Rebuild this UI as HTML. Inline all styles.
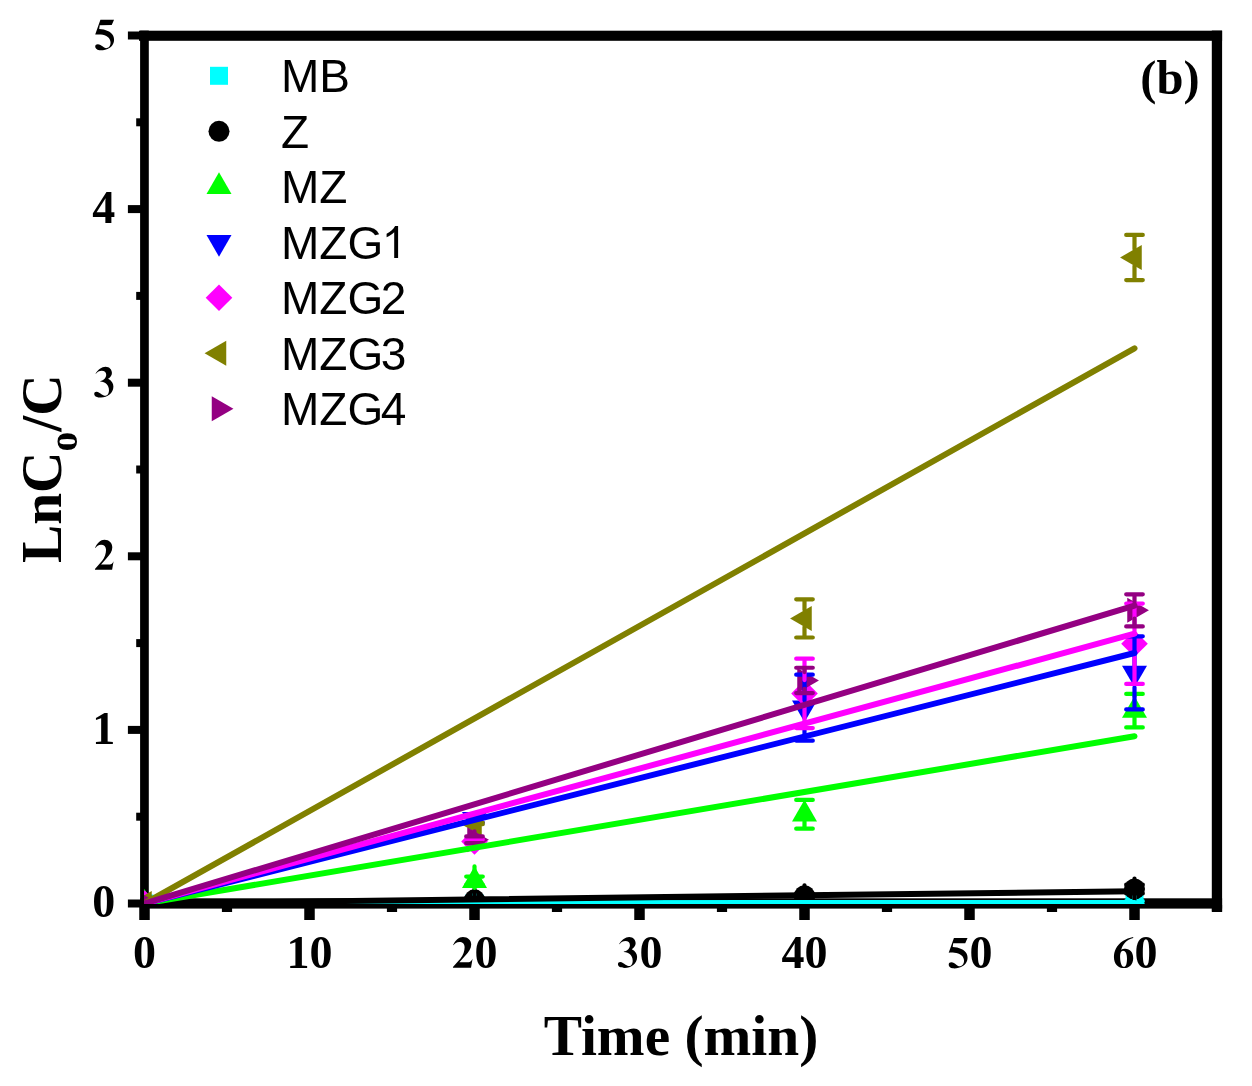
<!DOCTYPE html>
<html><head><meta charset="utf-8"><style>
html,body{margin:0;padding:0;background:#fff;}
body{width:1252px;height:1086px;overflow:hidden;}
svg{display:block;will-change:transform;}
</style></head><body>
<svg width="1252" height="1086" viewBox="0 0 1252 1086">
<rect width="1252" height="1086" fill="#fff"/>
<defs><clipPath id="pc"><rect x="144" y="36" width="1073" height="868"/></clipPath></defs>
<g fill="#000">
<rect x="140.1" y="30.6" width="8.7" height="878"/>
<rect x="1211.8" y="30.6" width="10.3" height="881"/>
<rect x="139" y="30.7" width="1083.1" height="10.1"/>
<rect x="140.1" y="898.3" width="1082" height="10.3"/>
<rect x="127.9" y="899.50" width="13" height="8"/>
<rect x="127.9" y="725.90" width="13" height="8"/>
<rect x="127.9" y="552.30" width="13" height="8"/>
<rect x="127.9" y="378.70" width="13" height="8"/>
<rect x="127.9" y="205.10" width="13" height="8"/>
<rect x="127.9" y="31.50" width="13" height="8"/>
<rect x="136.2" y="812.70" width="5" height="8"/>
<rect x="136.2" y="639.10" width="5" height="8"/>
<rect x="136.2" y="465.50" width="5" height="8"/>
<rect x="136.2" y="291.90" width="5" height="8"/>
<rect x="136.2" y="118.30" width="5" height="8"/>
<rect x="139.25" y="905" width="10.5" height="15"/>
<rect x="304.25" y="905" width="10.5" height="15"/>
<rect x="469.25" y="905" width="10.5" height="15"/>
<rect x="634.25" y="905" width="10.5" height="15"/>
<rect x="799.25" y="905" width="10.5" height="15"/>
<rect x="964.25" y="905" width="10.5" height="15"/>
<rect x="1129.25" y="905" width="10.5" height="15"/>
<rect x="221.90" y="905" width="10.2" height="7"/>
<rect x="386.90" y="905" width="10.2" height="7"/>
<rect x="551.90" y="905" width="10.2" height="7"/>
<rect x="716.90" y="905" width="10.2" height="7"/>
<rect x="881.90" y="905" width="10.2" height="7"/>
<rect x="1046.90" y="905" width="10.2" height="7"/>
<rect x="1211.90" y="905" width="10.2" height="7"/>
</g>
<g clip-path="url(#pc)">
<rect x="135.50" y="894.50" width="18" height="18" fill="#00FFFF"/>
<rect x="465.50" y="894.29" width="18" height="18" fill="#00FFFF"/>
<rect x="795.50" y="894.08" width="18" height="18" fill="#00FFFF"/>
<rect x="1125.50" y="893.88" width="18" height="18" fill="#00FFFF"/>
<circle cx="144.50" cy="903.50" r="10.5" fill="#000000"/>
<circle cx="474.50" cy="899.85" r="10.5" fill="#000000"/>
<circle cx="804.50" cy="895.79" r="10.5" fill="#000000"/>
<circle cx="1134.50" cy="889.00" r="10.5" fill="#000000"/>
<polygon points="144.50,889.07 132.00,910.72 157.00,910.72" fill="#00FF00"/>
<polygon points="474.50,866.32 462.00,887.98 487.00,887.98" fill="#00FF00"/>
<polygon points="804.50,799.87 792.00,821.52 817.00,821.52" fill="#00FF00"/>
<polygon points="1134.50,696.21 1122.00,717.86 1147.00,717.86" fill="#00FF00"/>
<polygon points="144.50,917.93 132.00,896.28 157.00,896.28" fill="#0000FF"/>
<polygon points="474.50,833.63 462.00,811.98 487.00,811.98" fill="#0000FF"/>
<polygon points="804.50,722.13 792.00,700.48 817.00,700.48" fill="#0000FF"/>
<polygon points="1134.50,687.29 1122.00,665.64 1147.00,665.64" fill="#0000FF"/>
<polygon points="144.50,890.20 157.80,903.50 144.50,916.80 131.20,903.50" fill="#FF00FF"/>
<polygon points="474.50,828.22 487.80,841.52 474.50,854.82 461.20,841.52" fill="#FF00FF"/>
<polygon points="804.50,680.09 817.80,693.39 804.50,706.69 791.20,693.39" fill="#FF00FF"/>
<polygon points="1134.50,630.44 1147.80,643.74 1134.50,657.04 1121.20,643.74" fill="#FF00FF"/>
<polygon points="130.07,903.50 151.72,891.00 151.72,916.00" fill="#808000"/>
<polygon points="460.07,823.51 481.72,811.01 481.72,836.01" fill="#808000"/>
<polygon points="790.07,618.40 811.72,605.90 811.72,630.90" fill="#808000"/>
<polygon points="1120.07,257.50 1141.72,245.00 1141.72,270.00" fill="#808000"/>
<polygon points="158.93,903.50 137.28,891.00 137.28,916.00" fill="#940082"/>
<polygon points="488.93,839.70 467.28,827.20 467.28,852.20" fill="#940082"/>
<polygon points="818.93,680.41 797.28,667.91 797.28,692.91" fill="#940082"/>
<polygon points="1148.93,610.34 1127.28,597.84 1127.28,622.84" fill="#940082"/>
<path d="M474.50,901.56V894.29M474.50,912.29V905.03M466.20,901.56H482.80M466.20,905.03H482.80" stroke="#00FFFF" stroke-width="4.2" stroke-linecap="round" fill="none"/>
<path d="M1134.50,901.14V893.88M1134.50,911.88V904.61M1126.20,901.14H1142.80M1126.20,904.61H1142.80" stroke="#00FFFF" stroke-width="4.2" stroke-linecap="round" fill="none"/>
<path d="M474.50,897.77V889.35M474.50,910.35V901.94M466.20,897.77H482.80M466.20,901.94H482.80" stroke="#000000" stroke-width="4.2" stroke-linecap="round" fill="none"/>
<path d="M804.50,893.71V885.29M804.50,906.29V897.88M796.20,893.71H812.80M796.20,897.88H812.80" stroke="#000000" stroke-width="4.2" stroke-linecap="round" fill="none"/>
<path d="M1134.50,884.49V878.50M1134.50,899.50V893.52M1126.20,884.49H1142.80M1126.20,893.52H1142.80" stroke="#000000" stroke-width="4.2" stroke-linecap="round" fill="none"/>
<path d="M474.50,876.56V866.32M474.50,887.98V884.96M466.20,876.56H482.80M466.20,884.96H482.80" stroke="#00FF00" stroke-width="4.2" stroke-linecap="round" fill="none"/>
<path d="M804.50,799.90V799.87M804.50,821.52V828.71M796.20,799.90H812.80M796.20,828.71H812.80" stroke="#00FF00" stroke-width="4.2" stroke-linecap="round" fill="none"/>
<path d="M1134.50,693.90V696.21M1134.50,717.86V727.40M1126.20,693.90H1142.80M1126.20,727.40H1142.80" stroke="#00FF00" stroke-width="4.2" stroke-linecap="round" fill="none"/>
<path d="M466.20,815.73H482.80M466.20,822.67H482.80" stroke="#0000FF" stroke-width="4.2" stroke-linecap="round" fill="none"/>
<path d="M804.50,674.71V700.48M804.50,722.13V740.68M796.20,674.71H812.80M796.20,740.68H812.80" stroke="#0000FF" stroke-width="4.2" stroke-linecap="round" fill="none"/>
<path d="M1134.50,636.31V665.64M1134.50,687.29V709.40M1126.20,636.31H1142.80M1126.20,709.40H1142.80" stroke="#0000FF" stroke-width="4.2" stroke-linecap="round" fill="none"/>
<path d="M466.20,839.42H482.80M466.20,843.63H482.80" stroke="#FF00FF" stroke-width="4.2" stroke-linecap="round" fill="none"/>
<path d="M804.50,658.67V680.09M804.50,706.69V728.11M796.20,658.67H812.80M796.20,728.11H812.80" stroke="#FF00FF" stroke-width="4.2" stroke-linecap="round" fill="none"/>
<path d="M1134.50,603.59V630.44M1134.50,657.04V683.90M1126.20,603.59H1142.80M1126.20,683.90H1142.80" stroke="#FF00FF" stroke-width="4.2" stroke-linecap="round" fill="none"/>
<path d="M466.20,822.81H482.80M466.20,824.20H482.80" stroke="#808000" stroke-width="4.2" stroke-linecap="round" fill="none"/>
<path d="M804.50,599.30V610.06M804.50,626.73V637.49M796.20,599.30H812.80M796.20,637.49H812.80" stroke="#808000" stroke-width="4.2" stroke-linecap="round" fill="none"/>
<path d="M1134.50,234.90V249.17M1134.50,265.83V280.10M1126.20,234.90H1142.80M1126.20,280.10H1142.80" stroke="#808000" stroke-width="4.2" stroke-linecap="round" fill="none"/>
<path d="M474.50,836.40V831.37M474.50,848.04V843.00M466.20,836.40H482.80M466.20,843.00H482.80" stroke="#940082" stroke-width="4.2" stroke-linecap="round" fill="none"/>
<path d="M804.50,667.73V672.07M804.50,688.74V693.08M796.20,667.73H812.80M796.20,693.08H812.80" stroke="#940082" stroke-width="4.2" stroke-linecap="round" fill="none"/>
<path d="M1134.50,594.28V602.01M1134.50,618.68V626.40M1126.20,594.28H1142.80M1126.20,626.40H1142.80" stroke="#940082" stroke-width="4.2" stroke-linecap="round" fill="none"/>
<line x1="144.50" y1="903.50" x2="1134.50" y2="902.88" stroke="#00FFFF" stroke-width="6.0" stroke-linecap="round"/>
<line x1="144.50" y1="903.50" x2="1134.50" y2="891.21" stroke="#000000" stroke-width="6.0" stroke-linecap="round"/>
<line x1="144.50" y1="903.50" x2="1134.50" y2="736.22" stroke="#00FF00" stroke-width="6.0" stroke-linecap="round"/>
<line x1="144.50" y1="903.50" x2="1134.50" y2="653.00" stroke="#0000FF" stroke-width="6.0" stroke-linecap="round"/>
<line x1="144.50" y1="903.50" x2="1134.50" y2="633.73" stroke="#FF00FF" stroke-width="6.0" stroke-linecap="round"/>
<line x1="144.50" y1="903.50" x2="1134.50" y2="348.33" stroke="#808000" stroke-width="6.0" stroke-linecap="round"/>
<line x1="144.50" y1="903.50" x2="1134.50" y2="605.60" stroke="#940082" stroke-width="6.0" stroke-linecap="round"/>
</g>
<g font-family="Liberation Serif" font-weight="bold" font-size="46" fill="#000">
<text x="115.3" y="917.20" text-anchor="end">0</text>
<text x="115.3" y="743.60" text-anchor="end">1</text>
<text x="115.3" y="222.80" text-anchor="end">4</text>
<path transform="translate(94.98,539.79)" d="M 0.18,7.92 C 2.03,3.32 5.71,0.00 9.40,0.00 C 14.19,0.00 17.32,3.32 17.32,7.37 C 17.32,11.43 14.93,14.74 11.61,18.43 L 6.08,24.70 L 14.93,24.70 C 16.40,24.70 17.51,23.59 18.61,21.38 L 17.14,30.04 L 0.00,30.04 L 0.00,29.30 L 7.19,21.01 C 9.77,17.69 11.06,13.64 11.06,9.95 C 11.06,6.63 9.03,4.87 6.08,4.87 C 3.50,4.87 1.66,6.27 0.55,8.11 Z"/>
<path transform="translate(94.05,366.63)" d="M 1.47,7.00 C 3.69,2.95 7.74,0.00 11.43,0.00 C 15.48,0.00 17.88,2.95 17.88,6.27 C 17.88,8.85 16.22,10.69 14.01,12.16 C 17.69,14.01 19.35,16.96 19.35,19.90 C 19.35,26.54 13.27,30.96 7.00,30.96 C 2.95,30.96 0.18,29.49 0.18,27.28 C 0.18,25.80 1.11,25.06 2.40,25.06 C 4.42,25.06 5.90,26.54 7.74,27.83 C 9.21,28.75 10.32,29.05 11.43,29.05 C 13.64,29.05 14.93,26.54 14.93,23.59 C 14.93,18.43 11.43,15.30 6.08,14.93 L 6.08,14.56 C 9.95,13.64 12.16,11.06 12.16,8.11 C 12.16,5.53 10.32,4.05 7.74,4.05 C 5.16,4.05 3.32,5.16 1.84,7.19 Z"/>
<path transform="translate(95.2,19.8)" d="M 5.22,0.00 L 18.84,0.00 L 16.52,5.30 L 4.53,5.42 L 3.98,9.09 C 10.25,9.36 15.98,11.68 17.99,15.86 C 20.00,20.50 18.45,25.15 14.58,27.93 C 11.10,30.25 7.23,30.64 4.14,30.44 C 1.43,30.25 0.00,28.39 0.00,26.77 C 0.00,25.22 1.16,24.37 2.59,24.37 C 4.53,24.37 6.00,25.53 7.62,26.77 C 9.17,27.93 10.33,28.47 11.49,28.32 C 14.20,27.93 15.36,25.22 15.36,22.90 C 15.36,18.26 11.10,15.16 5.69,14.78 C 3.75,14.62 1.82,14.62 0.00,14.78 Z"/>
<text x="144.50" y="967.5" text-anchor="middle">0</text>
<text x="309.50" y="967.5" text-anchor="middle">10</text>
<path transform="translate(452.97,937.04) scale(1.053,1.02)" d="M 0.18,7.92 C 2.03,3.32 5.71,0.00 9.40,0.00 C 14.19,0.00 17.32,3.32 17.32,7.37 C 17.32,11.43 14.93,14.74 11.61,18.43 L 6.08,24.70 L 14.93,24.70 C 16.40,24.70 17.51,23.59 18.61,21.38 L 17.14,30.04 L 0.00,30.04 L 0.00,29.30 L 7.19,21.01 C 9.77,17.69 11.06,13.64 11.06,9.95 C 11.06,6.63 9.03,4.87 6.08,4.87 C 3.50,4.87 1.66,6.27 0.55,8.11 Z"/>
<text x="474.50" y="967.5">0</text>
<path transform="translate(617.76,937.04)" d="M 1.47,7.00 C 3.69,2.95 7.74,0.00 11.43,0.00 C 15.48,0.00 17.88,2.95 17.88,6.27 C 17.88,8.85 16.22,10.69 14.01,12.16 C 17.69,14.01 19.35,16.96 19.35,19.90 C 19.35,26.54 13.27,30.96 7.00,30.96 C 2.95,30.96 0.18,29.49 0.18,27.28 C 0.18,25.80 1.11,25.06 2.40,25.06 C 4.42,25.06 5.90,26.54 7.74,27.83 C 9.21,28.75 10.32,29.05 11.43,29.05 C 13.64,29.05 14.93,26.54 14.93,23.59 C 14.93,18.43 11.43,15.30 6.08,14.93 L 6.08,14.56 C 9.95,13.64 12.16,11.06 12.16,8.11 C 12.16,5.53 10.32,4.05 7.74,4.05 C 5.16,4.05 3.32,5.16 1.84,7.19 Z"/>
<text x="639.50" y="967.5">0</text>
<text x="804.50" y="967.5" text-anchor="middle">40</text>
<path transform="translate(948.7,937.9)" d="M 5.22,0.00 L 18.84,0.00 L 16.52,5.30 L 4.53,5.42 L 3.98,9.09 C 10.25,9.36 15.98,11.68 17.99,15.86 C 20.00,20.50 18.45,25.15 14.58,27.93 C 11.10,30.25 7.23,30.64 4.14,30.44 C 1.43,30.25 0.00,28.39 0.00,26.77 C 0.00,25.22 1.16,24.37 2.59,24.37 C 4.53,24.37 6.00,25.53 7.62,26.77 C 9.17,27.93 10.33,28.47 11.49,28.32 C 14.20,27.93 15.36,25.22 15.36,22.90 C 15.36,18.26 11.10,15.16 5.69,14.78 C 3.75,14.62 1.82,14.62 0.00,14.78 Z"/>
<text x="969.50" y="967.5">0</text>
<path transform="translate(1113.94,936.84)" fill-rule="evenodd" d="M 19.26,0.12 C 11.81,1.45 5.18,5.59 1.86,11.81 C 0.41,14.71 0.00,17.61 0.00,20.09 C 0.00,27.13 4.35,31.28 10.15,31.28 C 15.53,31.28 19.26,27.13 19.26,21.33 C 19.26,15.53 15.95,12.01 11.39,12.01 C 9.73,12.01 8.29,12.43 7.25,13.05 C 8.49,7.66 12.63,2.69 19.26,1.04 Z M 9.11,13.88 C 11.60,13.88 13.05,16.78 13.05,21.75 C 13.05,27.13 12.01,30.03 10.15,30.03 C 7.66,30.03 6.42,25.89 6.21,21.33 C 6.01,16.78 6.84,13.88 9.11,13.88 Z"/>
<text x="1134.50" y="967.5">0</text>
</g>
<text x="681" y="1055.2" text-anchor="middle" font-family="Liberation Serif" font-weight="bold" font-size="57.4">Time (min)</text>
<text transform="translate(61.4,468.7) rotate(-90)" text-anchor="middle" font-family="Liberation Serif" font-weight="bold" font-size="57.4">LnC<tspan font-size="39.5" dy="15.6">o</tspan><tspan dy="-15.6">/C</tspan></text>
<text x="1170" y="94.4" text-anchor="middle" font-family="Liberation Serif" font-weight="bold" font-size="48.5">(b)</text>
<g font-family="Liberation Sans" font-size="46" fill="#000">
<rect x="210.00" y="66.80" width="18" height="18" fill="#00FFFF"/>
<text x="281" y="92.00">MB</text>
<circle cx="219.00" cy="131.30" r="10.5" fill="#000000"/>
<text x="281" y="147.50">Z</text>
<polygon points="219.00,172.37 206.50,194.02 231.50,194.02" fill="#00FF00"/>
<text x="281" y="203.00">MZ</text>
<polygon points="219.00,256.73 206.50,235.08 231.50,235.08" fill="#0000FF"/>
<text x="281" y="258.50">MZG</text>
<path transform="translate(0,0.00)" d="M398.1,226 L398.1,258 L394.2,258 L394.2,232.3 C392,234.3 389.6,235.9 386.6,237.3 L386.6,233.7 C390.2,232 393.2,229.4 395.1,226 Z"/>
<polygon points="219.00,284.50 232.30,297.80 219.00,311.10 205.70,297.80" fill="#FF00FF"/>
<text x="281" y="314.00">MZG<tspan dx="-2.4">2</tspan></text>
<polygon points="204.57,353.30 226.22,340.80 226.22,365.80" fill="#808000"/>
<text x="281" y="369.50">MZG<tspan dx="-2.4">3</tspan></text>
<polygon points="233.43,408.80 211.78,396.30 211.78,421.30" fill="#940082"/>
<text x="281" y="425.00">MZG<tspan dx="-2.4">4</tspan></text>
</g>
</svg>
</body></html>
